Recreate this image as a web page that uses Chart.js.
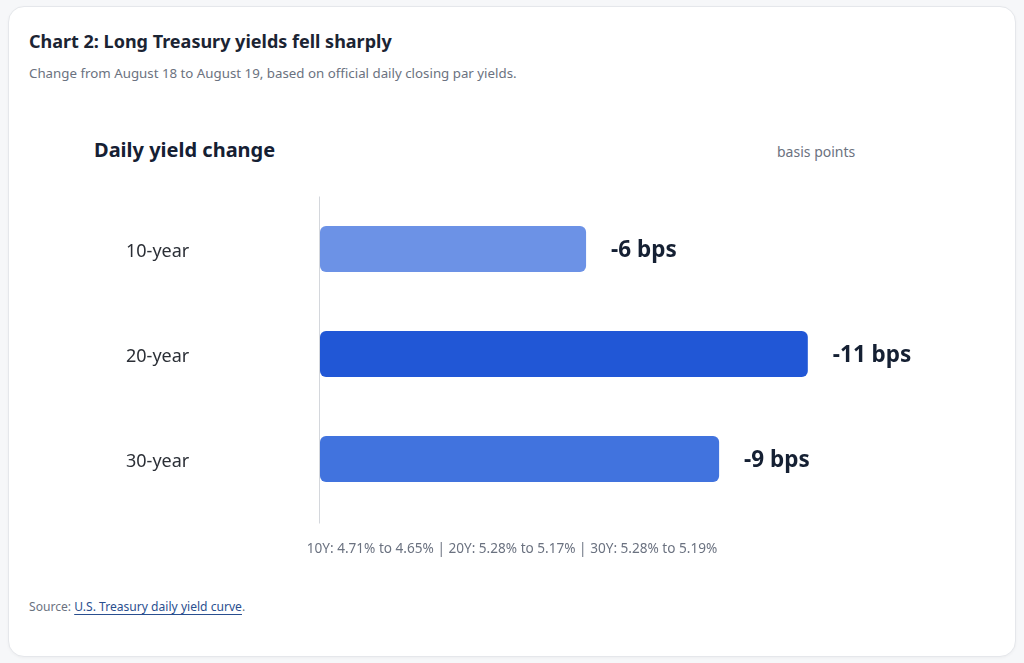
<!DOCTYPE html>
<html>
<head>
<meta charset="utf-8">
<script src="https://cdn.jsdelivr.net/npm/chart.js@4"></script>
<style>
  html, body { margin: 0; padding: 0; }
  body { width: 1024px; height: 663px; background: #f6f7f9; font-family: "Noto Sans", sans-serif; position: relative; overflow: hidden; }
  .card { position: absolute; left: 8px; top: 6px; width: 1006px; height: 649px; background: #fff; border: 1px solid #e5e7eb; border-radius: 16px; box-shadow: 0 1px 3px rgba(0,0,0,0.04); }
  .title { position: absolute; left: 29px; top: 29px; font-size: 18px; font-weight: 700; color: #1b2433; white-space: nowrap; }
  .sub { position: absolute; left: 29px; top: 64px; font-size: 13.3px; color: #6b7280; white-space: nowrap; }
  .chead { position: absolute; left: 94px; top: 136px; font-size: 20px; font-weight: 700; color: #152033; white-space: nowrap; }
  .unit { position: absolute; left: 777px; top: 142px; font-size: 14px; color: #6b7280; white-space: nowrap; }
  .wrap { position: absolute; left: 30px; top: 180px; width: 964px; height: 360px; }
  .note { position: absolute; left: 0; width: 1024px; top: 538px; text-align: center; font-size: 13.6px; color: #6b7280; }
  .src { position: absolute; left: 29px; top: 598px; font-size: 12.1px; color: #6b7280; white-space: nowrap; }
  .src a { color: #2a4f8f; text-decoration: underline; text-underline-offset: 3px; }
</style>
</head>
<body>
<div class="card"></div>
<div class="title">Chart 2: Long Treasury yields fell sharply</div>
<div class="sub">Change from August 18 to August 19, based on official daily closing par yields.</div>
<div class="chead">Daily yield change</div>
<div class="unit">basis points</div>
<div class="wrap"><canvas id="yieldChart"></canvas></div>
<div class="note">10Y: 4.71% to 4.65% | 20Y: 5.28% to 5.17% | 30Y: 5.28% to 5.19%</div>
<div class="src">Source: <a href="#">U.S. Treasury daily yield curve</a>.</div>

<script>
const tenors = ['10-year', '20-year', '30-year'];
const changeBps = [-6, -11, -9];
const barColors = ['#6c92e6', '#2157d6', '#4173de'];

document.addEventListener('DOMContentLoaded', () => {
    const ctx = document.getElementById('yieldChart').getContext('2d');

    // value labels to the right of each bar
    const valueLabels = {
        id: 'valueLabels',
        afterDatasetsDraw(chart) {
            const c = chart.ctx;
            const meta = chart.getDatasetMeta(0);
            c.save();
            c.font = '700 22.5px "Noto Sans", sans-serif';
            c.fillStyle = '#152033';
            c.textBaseline = 'middle';
            meta.data.forEach((bar, i) => {
                c.fillText(changeBps[i] + ' bps', bar.x + 25, bar.y + 2);
            });
            c.restore();
        }
    };

    // zero line, runs a little below the plot
    const zeroLine = {
        id: 'zeroLine',
        beforeDatasetsDraw(chart) {
            const c = chart.ctx;
            const x = Math.round(chart.scales.x.getPixelForValue(0)) - 0.5;
            c.save();
            c.strokeStyle = '#d4d7dc';
            c.lineWidth = 1;
            c.beginPath();
            c.moveTo(x, chart.chartArea.top);
            c.lineTo(x, chart.chartArea.bottom + 12);
            c.stroke();
            c.restore();
        }
    };

    new Chart(ctx, {
        type: 'bar',
        data: {
            labels: tenors,
            datasets: [{
                data: changeBps,
                backgroundColor: barColors,
                borderRadius: 6,
                borderSkipped: false,
                barPercentage: 0.44,
                categoryPercentage: 1
            }]
        },
        options: {
            indexAxis: 'y',
            responsive: true,
            maintainAspectRatio: false,
            animation: false,
            layout: { padding: { top: 16.5, bottom: 28.5, left: 96, right: 97.5 } },
            plugins: {
                legend: { display: false },
                tooltip: { enabled: false }
            },
            scales: {
                x: {
                    reverse: true,
                    min: -13,
                    max: 0,
                    grid: { display: false },
                    border: { display: false },
                    ticks: { display: false },
                    afterFit(scale) { scale.height = 0; }
                },
                y: {
                    grid: { display: false, drawTicks: false },
                    border: { display: false },
                    ticks: {
                        padding: 0,
                        crossAlign: 'far',
                        labelOffset: 3,
                        color: '#2b2f36',
                        font: { family: '"Noto Sans", sans-serif', size: 18 }
                    },
                    afterFit(scale) { scale.width = 194; }
                }
            }
        },
        plugins: [zeroLine, valueLabels]
    });
});
</script>
</body>
</html>
